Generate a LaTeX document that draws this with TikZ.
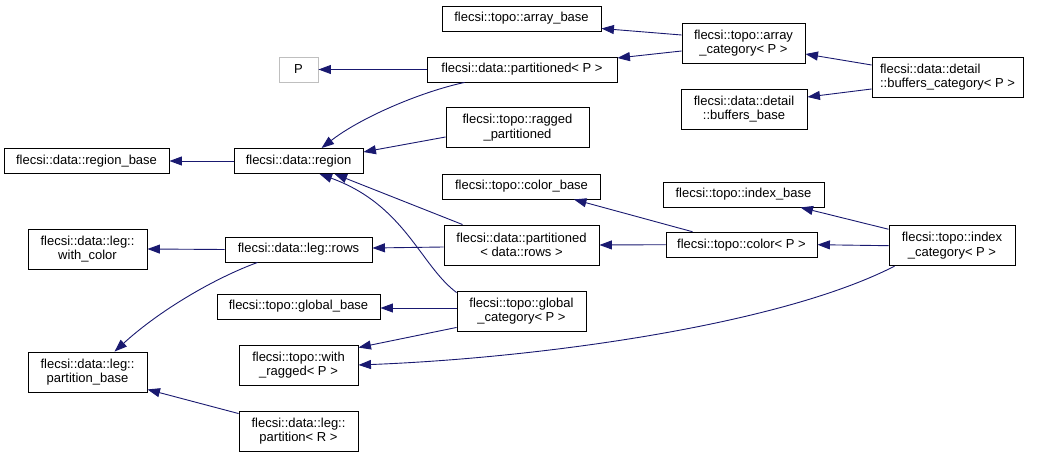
\documentclass[tikz,border=0pt]{standalone}
\usepackage{fontspec}
\setmainfont{Liberation Sans}
\usetikzlibrary{arrows.meta}
\definecolor{edgeblue}{HTML}{191970}
\definecolor{ghost}{HTML}{BFBFBF}
\tikzset{
  cls/.style={draw=black, line width=0.9pt, fill=white, inner sep=0pt, align=center,
    font=\fontsize{13}{14.5}\selectfont, minimum height=25pt},
  cls2/.style={cls, minimum height=40pt},
  ghostcls/.style={cls, draw=ghost},
  edge/.style={draw=edgeblue, line width=0.9pt, -{Triangle[length=12.5pt,width=9pt]}},
}
\begin{document}
\begin{tikzpicture}[x=1pt,y=-1pt]
\useasboundingbox (0,0) rectangle (1039,457);
% nodes
\node[cls, minimum width=165pt] (rb) at (86.5,161) {flecsi::data::region\_base};
\node[cls, minimum width=129pt] (rg) at (298.5,161) {flecsi::data::region};
\node[ghostcls, minimum width=39pt] (P) at (298.5,69.5) {P};
\node[cls, minimum width=190pt] (pp) at (522,69.5) {flecsi::data::partitioned< P >};
\node[cls, minimum width=159pt] (ab) at (521.5,18.5) {flecsi::topo::array\_base};
\node[cls2, minimum width=123pt] (ac) at (743.5,43) {flecsi::topo::array\\\_category< P >};
\node[cls2, minimum width=151pt, align=left] (bc) at (947.5,77) {flecsi::data::detail\\::buffers\_category< P >};
\node[cls2, minimum width=126pt] (bb) at (744,109) {flecsi::data::detail\\::buffers\_base};
\node[cls2, minimum width=143pt] (rp) at (517.5,127.5) {flecsi::topo::ragged\\\_partitioned};
\node[cls, minimum width=158pt] (cb) at (521.5,186.5) {flecsi::topo::color\_base};
\node[cls, minimum width=161pt] (ib) at (743.5,194.5) {flecsi::topo::index\_base};
\node[cls2, minimum width=155pt] (pr) at (521.5,245) {flecsi::data::partitioned\\< data::rows >};
\node[cls, minimum width=151pt] (co) at (741.5,244.7) {flecsi::topo::color< P >};
\node[cls2, minimum width=126pt] (ic) at (952,245.7) {flecsi::topo::index\\\_category< P >};
\node[cls2, minimum width=119pt] (wc) at (87.5,249) {flecsi::data::leg::\\with\_color};
\node[cls, minimum width=147pt] (lr) at (298.5,249.5) {flecsi::data::leg::rows};
\node[cls, minimum width=163pt] (gb) at (298.5,306.5) {flecsi::topo::global\_base};
\node[cls2, minimum width=129pt] (gc) at (521.5,311) {flecsi::topo::global\\\_category< P >};
\node[cls2, minimum width=119pt] (wr) at (298.5,365) {flecsi::topo::with\\\_ragged< P >};
\node[cls2, minimum width=119pt] (pb) at (87.5,372) {flecsi::data::leg::\\partition\_base};
\node[cls2, minimum width=119pt] (pa) at (298.5,431) {flecsi::data::leg::\\partition< R >};
% edges (derived -> base)
\draw[edge] (rg) -- (rb);
\draw[edge] (pp) -- (P);
\draw[edge] ([xshift=38pt]pp.south west) .. controls (420,92) and (360,118) .. ([xshift=88pt]rg.north west);
\draw[edge] ([yshift=-9.5pt]rp.west) -- ([yshift=9pt]rg.east);
\draw[edge] ([xshift=19pt]pr.north west) -- ([xshift=101pt]rg.south west);
\draw[edge] ([yshift=-2pt]gc.north west) .. controls (420,265) and (405,205) .. ([xshift=86pt]rg.south west);
\draw[edge] ([yshift=8pt]ac.west) -- ([yshift=-10pt]ab.east);
\draw[edge] ([yshift=-8pt]ac.west) -- ([yshift=11.5pt]pp.east);
\draw[edge] ([yshift=12pt]bc.west) -- ([yshift=-11pt]ac.east);
\draw[edge] ([yshift=-12pt]bc.west) -- ([yshift=12pt]bb.east);
\draw[edge] ([xshift=27pt]co.north west) -- ([xshift=-27pt]cb.south east);
\draw[edge] (co.west) -- (pr.east);
\draw[edge] (ic.west) -- (co.east);
\draw[edge] ([yshift=-4pt]ic.north west) -- ([xshift=-24pt]ib.south east);
\draw[edge] ([xshift=6pt]ic.south west) .. controls (780,325) and (540,358) .. (wr.east);
\draw[edge] ([yshift=-2pt]pr.west) -- ([yshift=1.5pt]lr.east);
\draw[edge] (lr.west) -- (wc.east);
\draw[edge] ([xshift=33pt]lr.south west) .. controls (215,278) and (160,310) .. ([xshift=87pt]pb.north west);
\draw[edge] ([yshift=3pt]gc.west) -- ([yshift=-1.5pt]gb.east);
\draw[edge] ([yshift=4pt]gc.south west) -- ([yshift=-3pt]wr.north east);
\draw[edge] ([yshift=-3pt]pa.north west) -- ([yshift=3pt]pb.south east);
\end{tikzpicture}
\end{document}
